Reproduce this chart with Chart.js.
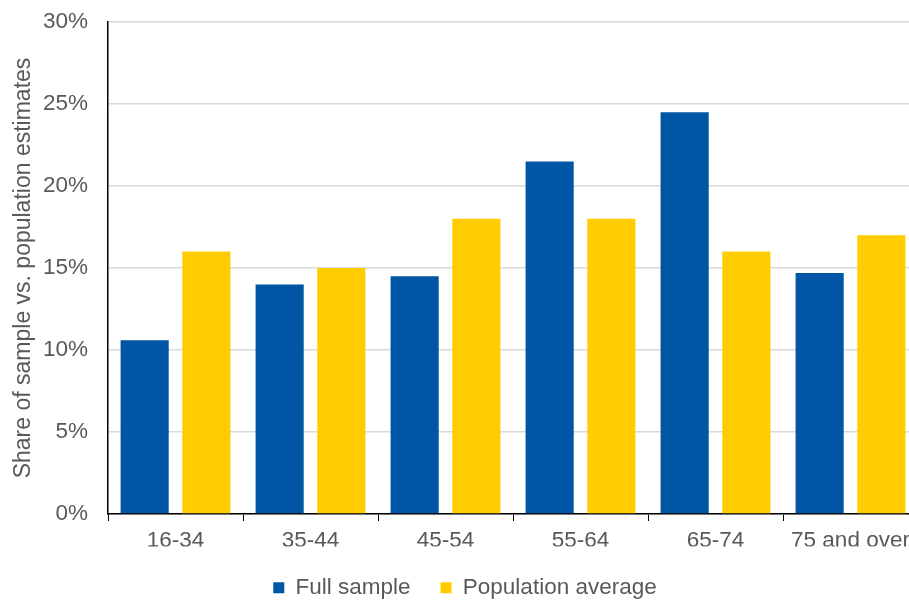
<!DOCTYPE html>
<html>
<head>
<meta charset="utf-8">
<script src="https://cdn.jsdelivr.net/npm/chart.js@4/dist/chart.umd.min.js"></script>
<style>
  html, body { margin: 0; padding: 0; background: #fff; overflow: hidden; }
  #wrap { width: 930px; height: 601px; position: relative; }
</style>
</head>
<body>
<div id="wrap"><canvas id="chart"></canvas></div>
<script>
// Age bands and shares (%)
const ageBands = ['16-34', '35-44', '45-54', '55-64', '65-74', '75 and over'];
const fullSample = [10.6, 14.0, 14.5, 21.5, 24.5, 14.7];
const populationAverage = [16.0, 15.0, 18.0, 18.0, 16.0, 17.0];
const seriesNames = ['Full sample', 'Population average'];
const yTicks = [0, 5, 10, 15, 20, 25, 30];

const TEXT = '#595959';
const FONT = { family: 'Arial, "Liberation Sans", sans-serif', size: 22.5 };
const TITLE_FONT = { family: 'Arial, "Liberation Sans", sans-serif', size: 23 };

new Chart(document.getElementById('chart'), {
  type: 'bar',
  data: {
    labels: ageBands,
    datasets: [
      { label: seriesNames[0], data: fullSample, backgroundColor: '#0055A4' },
      { label: seriesNames[1], data: populationAverage, backgroundColor: '#FFCC00' }
    ]
  },
  options: {
    responsive: true,
    maintainAspectRatio: false,
    animation: false,
    categoryPercentage: 0.914,
    barPercentage: 0.78,
    layout: { padding: { top: 22, right: 12, left: 12, bottom: -8 } },
    plugins: {
      tooltip: { enabled: false },
      legend: {
        position: 'bottom',
        labels: {
          color: TEXT,
          font: FONT,
          boxWidth: 11,
          boxHeight: 11,
          padding: 30
        }
      }
    },
    scales: {
      x: {
        clip: false,
        afterFit: s => { s.height = 32.5; },
        grid: {
          offset: true,
          drawOnChartArea: false,
          drawTicks: true,
          tickLength: 7,
          color: '#000'
        },
        border: { color: '#000', width: 1.5 },
        ticks: { color: TEXT, font: FONT, padding: 6.5, maxRotation: 0, autoSkip: false }
      },
      y: {
        min: 0,
        max: 30,
        clip: false,
        afterBuildTicks: s => { s.ticks = yTicks.map(v => ({ value: v })); },
        afterFit: s => { s.width = 96; s.paddingTop = 0; s.paddingBottom = 0; },
        grid: { color: '#d9d9d9', lineWidth: 1.5, drawTicks: false },
        border: { color: '#000', width: 1.5 },
        ticks: { color: TEXT, font: FONT, padding: 20, callback: v => v + '%' },
        title: {
          display: true,
          text: 'Share of sample vs. population estimates',
          color: TEXT,
          font: TITLE_FONT,
          padding: { top: -2, bottom: 0 }
        }
      }
    }
  }
});
</script>
</body>
</html>
